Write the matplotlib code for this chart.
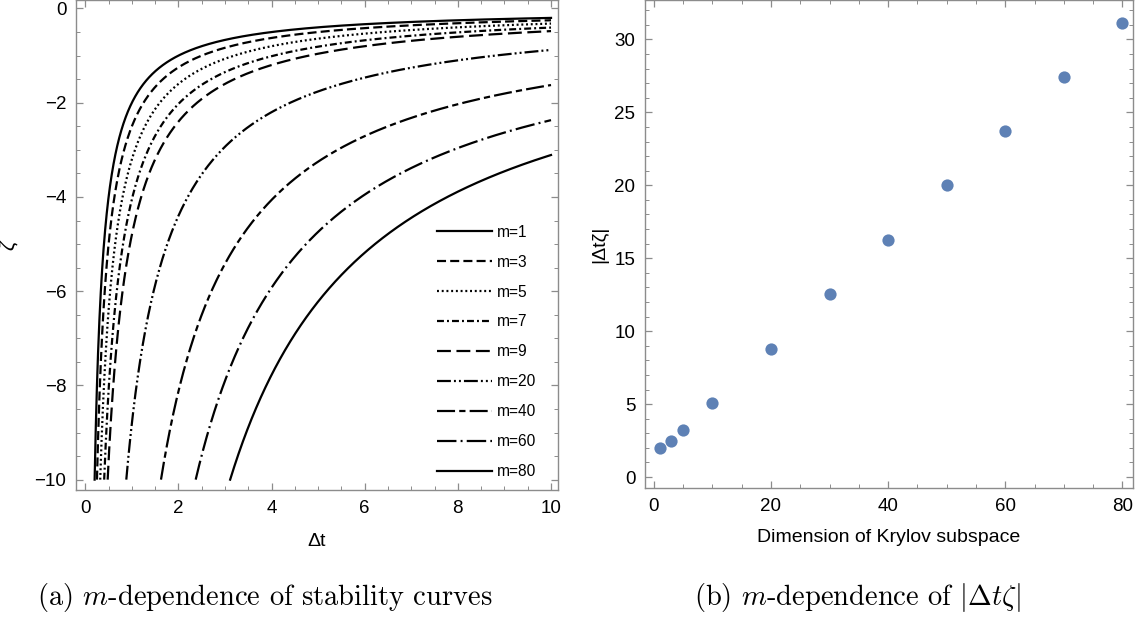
import numpy as np
import matplotlib
matplotlib.use("Agg")
import matplotlib.pyplot as plt

plt.rcParams['font.family'] = ['Liberation Sans', 'DejaVu Sans']
plt.rcParams['mathtext.fontset'] = 'cm'
plt.rcParams['lines.scale_dashes'] = False

# left panel: stability curves zeta = -c / dt, c
m_left = [1, 3, 5, 7, 9, 20, 40, 60, 80]
c_left = [2.0, 2.5, 3.2, 4.05, 4.8, 8.8, 16.25, 23.7, 31.1]
dash_left = [None, (6.5, 3), (1.4, 2.0), (5, 2.2, 1.4, 2.2), (10, 4),
             (10, 2.2, 1.4, 2.2, 1.4, 2.2), (13, 3, 4.5, 3), (14, 3, 1.4, 3), None]

# right panel: |dt zeta| vs Krylov dimension
m_right = [1, 3, 5, 10, 20, 30, 40, 50, 60, 70, 80]
abs_dtz = [2.0, 2.5, 3.2, 5.05, 8.8, 12.55, 16.25, 20.0, 23.7, 27.4, 31.1]

W, H = 1139, 617
fig = plt.figure(figsize=(W / 100, H / 100), dpi=100)

frame_col = '#8c8c8c'


def style_axes(ax):
    for s in ax.spines.values():
        s.set_color(frame_col)
        s.set_linewidth(1.0)
    ax.tick_params(which='both', direction='in', top=True, right=True,
                   color=frame_col, labelsize=13.5, labelcolor='black')
    ax.tick_params(which='major', length=5, width=0.9, pad=7)
    ax.tick_params(which='minor', length=2.8, width=0.7)


# ---- left ----
ax1 = fig.add_axes([76 / W, 1 - 490 / H, (558 - 76) / W, 490 / H])
for m, c, d in zip(m_left, c_left, dash_left):
    dt = np.linspace(c / 10.0, 10, 2000)
    z = -c / dt
    ln, = ax1.plot(dt, z, color='black', lw=1.6, label='m=%d' % m)
    if d is not None:
        ln.set_dashes(d)
ax1.set_xlim(-0.2, 10.15)
ax1.set_ylim(-10.22, 0.18)
ax1.set_xticks([0, 2, 4, 6, 8, 10])
ax1.set_yticks([0, -2, -4, -6, -8, -10])
ax1.set_xticks(np.arange(0, 10.01, 0.5), minor=True)
ax1.set_yticks(np.arange(-10, 0.01, 0.5), minor=True)
style_axes(ax1)
ax1.set_xlabel('Δt', fontsize=14, labelpad=12)
ax1.set_ylabel('ζ', fontsize=15, fontstyle='italic', labelpad=12)
ax1.legend(loc='lower right', bbox_to_anchor=(0.978, 0.0), frameon=False,
           fontsize=11.2, handlelength=3.5, labelspacing=0.96, handletextpad=0.35,
           borderpad=0.2)

# ---- right ----
ax2 = fig.add_axes([645 / W, 1 - 488 / H, (1133 - 645) / W, 488 / H])
ax2.plot(m_right, abs_dtz, 'o', color='#5e81b5', markersize=8.8, markeredgewidth=0)
ax2.set_xlim(-1.5, 81.8)
ax2.set_ylim(-0.75, 32.7)
ax2.set_xticks([0, 20, 40, 60, 80])
ax2.set_yticks([0, 5, 10, 15, 20, 25, 30])
ax2.set_xticks(np.arange(0, 81, 5), minor=True)
ax2.set_yticks(np.arange(0, 33, 1), minor=True)
style_axes(ax2)
ax2.set_xlabel('Dimension of Krylov subspace', fontsize=14, labelpad=10)
ax2.set_ylabel('|Δtζ|', fontsize=14, labelpad=4)

# captions
fig.text(265 / W, 1 - 597 / H, r'(a) $m$-dependence of stability curves',
         ha='center', va='center', fontsize=20.5, family='cmr10')
fig.text(857 / W, 1 - 597 / H, r'(b) $m$-dependence of $|\Delta t\zeta|$',
         ha='center', va='center', fontsize=20.5, family='cmr10')

fig.savefig('out.png', dpi=100)
